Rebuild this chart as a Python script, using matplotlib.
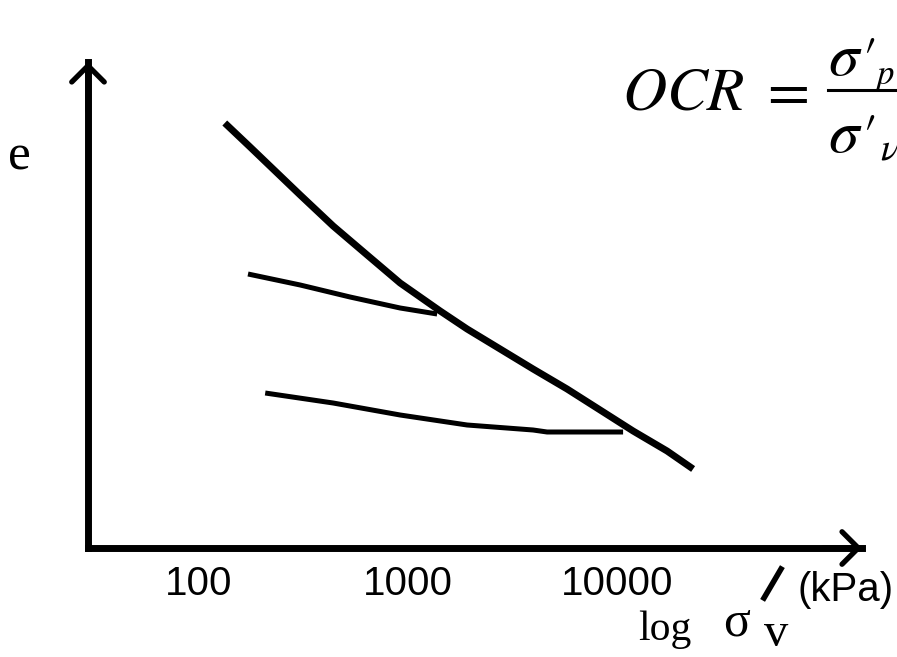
import matplotlib
matplotlib.use("Agg")
import matplotlib.pyplot as plt
from matplotlib.lines import Line2D

# virgin compression curve (sigma'_v in kPa, void ratio e)
comp_s = [134, 177, 307, 441, 641, 921, 1430, 1923, 2764, 3972, 5771, 8297, 11925, 17322, 23060]
comp_e = [4.25, 4.01, 3.53, 3.22, 2.93, 2.65, 2.37, 2.19, 1.99, 1.79, 1.59, 1.38, 1.17, 0.97, 0.79]

# upper unload/reload line (joins curve near 1400 kPa)
ur1_s = [173, 307, 531, 921, 1383]
ur1_e = [2.74, 2.63, 2.51, 2.40, 2.34]

# lower unload/reload line (joins curve near 11000 kPa)
ur2_s = [209, 441, 921, 1923, 3972, 4633, 10680]
ur2_e = [1.55, 1.45, 1.33, 1.23, 1.18, 1.16, 1.16]

tick_vals = [100, 1000, 10000]
tick_labels = ["100", "1000", "10000"]

W, H = 897, 657


def fx(px):
    return px / W


def fy(py):
    return 1 - py / H


plt.rcParams["mathtext.fontset"] = "stix"

fig = plt.figure(figsize=(W / 100, H / 100), dpi=100)
ax = fig.add_axes([fx(88), fy(548), fx(862) - fx(88), fy(62) - fy(548)])

ax.set_xscale("log")
ax.set_xlim(29.8, 147600)
ax.set_ylim(0, 4.86)

ax.plot(comp_s, comp_e, color="black", lw=5, solid_capstyle="butt",
        solid_joinstyle="round", clip_on=False)
ax.plot(ur1_s, ur1_e, color="black", lw=3.6, solid_capstyle="butt",
        solid_joinstyle="round", clip_on=False)
ax.plot(ur2_s, ur2_e, color="black", lw=3.6, solid_capstyle="butt",
        solid_joinstyle="round", clip_on=False)

for side in ["top", "right"]:
    ax.spines[side].set_visible(False)
for side in ["left", "bottom"]:
    ax.spines[side].set_linewidth(5)
    ax.spines[side].set_color("black")

ax.set_yticks([])
ax.set_xticks(tick_vals)
ax.set_xticklabels(tick_labels, fontsize=29, family="Liberation Sans")
ax.xaxis.set_minor_locator(matplotlib.ticker.NullLocator())
ax.tick_params(axis="x", length=0, pad=12)

# arrow heads on the axes
arrow = dict(arrowstyle="->,head_length=0.45,head_width=0.45", lw=3.8, color="black",
             mutation_scale=26, shrinkA=0, shrinkB=0)
ax.annotate("", xy=(0, 1), xytext=(0, 0.9), xycoords="axes fraction", arrowprops=arrow)
ax.annotate("", xy=(1, 0), xytext=(0.95, 0), xycoords="axes fraction", arrowprops=arrow)

# axis labels
fig.text(fx(8), fy(170), "e", fontsize=37, family="Liberation Serif", ha="left", va="baseline")
fig.text(fx(638), fy(640), "log", fontsize=30, family="Liberation Serif", ha="left", va="baseline")
fig.text(fx(723), fy(635), "σ", fontsize=36, family="Liberation Serif", ha="left", va="baseline")
fig.text(fx(764), fy(646), "v", fontsize=35, family="Liberation Serif", ha="left", va="baseline")
fig.add_artist(Line2D([fx(764), fx(781)], [fy(598), fy(569)], color="black", lw=4))
fig.text(fx(797), fy(590), "(kPa)", fontsize=29, family="Liberation Sans", ha="left", va="center")

# OCR formula
serif_it = ["STIXGeneral", "DejaVu Serif"]
fig.text(fx(622), fy(110), r"$OCR\ =$", fontsize=44, ha="left", va="baseline")
fig.add_artist(Line2D([fx(828), fx(900)], [fy(90), fy(90)], color="black", lw=2.2))
fig.text(fx(828), fy(75), "σ", fontsize=44, family=serif_it, style="italic",
         ha="left", va="baseline")
fig.text(fx(862), fy(75), "′", fontsize=38, family=serif_it, ha="left", va="baseline")
fig.text(fx(877), fy(84), "p", fontsize=25, family=serif_it, style="italic",
         ha="left", va="baseline")
fig.text(fx(828), fy(152), "σ", fontsize=44, family=serif_it, style="italic",
         ha="left", va="baseline")
fig.text(fx(862), fy(152), "′", fontsize=38, family=serif_it, ha="left", va="baseline")
fig.text(fx(880), fy(160), "ν", fontsize=27, family=serif_it, style="italic",
         ha="left", va="baseline")

fig.savefig("out.png", dpi=100)
